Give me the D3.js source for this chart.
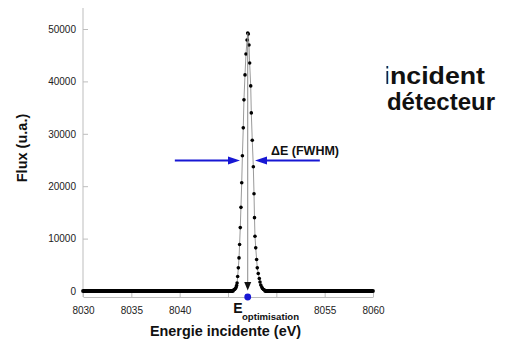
<!DOCTYPE html>
<html>
<head>
<meta charset="utf-8">
<script src="https://cdn.jsdelivr.net/npm/d3@7"></script>
<style>
  body { margin: 0; background: #fff; }
  svg { font-family: "Liberation Sans", Arial, sans-serif; }
</style>
</head>
<body>
<div id="chart"></div>
<script>
// measured points of the peak (eV, counts)
const energy = [
  8045.57, 8045.67, 8045.75, 8045.83, 8045.89, 8045.94, 8046.00, 8046.07, 8046.14, 8046.20,
  8046.27, 8046.34, 8046.42, 8046.49, 8046.58, 8046.65, 8046.76, 8046.86, 8046.97, 8047.04,
  8047.10, 8047.17, 8047.24, 8047.35, 8047.41, 8047.51, 8047.62, 8047.69, 8047.74, 8047.79,
  8047.87, 8047.96, 8048.03, 8048.13, 8048.24, 8048.31, 8048.39, 8048.49, 8048.57, 8048.67,
  8048.78
];
const flux = [
  190, 290, 420, 670, 1050, 1520, 2760, 4420, 6320, 8860,
  12100, 15960, 20670, 25810, 31140, 36480, 41240, 45240, 47900, 49240,
  49050, 46950, 43520, 39140, 33990, 28760, 23710, 18570, 14000, 10440,
  8230, 6000, 4420, 3330, 2380, 1710, 1140, 760, 480, 290,
  190
];
// flat zero regions either side of the peak
const baseLeft = [8030, 8045.5];
const baseRight = [8048.85, 8060];

const xTicks = [8030, 8035, 8040, 8045, 8050, 8055, 8060];
const xTickLabels = ["8030", "8035", "8040", "", "", "8055", "8060"];
const yTicks = [0, 10000, 20000, 30000, 40000, 50000];

const eOpt = 8047.04;
const halfLevel = 24900;
const arrowLeft = [8039.5, 8046.24];
const arrowRight = [8054.5, 8047.79];

const W = 511, H = 343;
const svg = d3.select("#chart").append("svg")
  .attr("width", W).attr("height", H);

const x = d3.scaleLinear().domain([8030, 8060]).range([83, 373]);
const y = d3.scaleLinear().domain([0, 50000]).range([291, 29]);
const axisY = 297;

const axisColor = "#bdbdbd";
const blue = "#1717d4";

// axes
const gx = svg.append("g")
  .attr("transform", "translate(0," + axisY + ")")
  .call(d3.axisBottom(x).tickValues(xTicks)
    .tickFormat((d, i) => xTickLabels[i])
    .tickSizeInner(-5).tickSizeOuter(0).tickPadding(10));
gx.select(".domain").attr("stroke", axisColor);
gx.selectAll(".tick line").attr("stroke", axisColor);
gx.selectAll("text").attr("fill", "#222").style("font-size", "10px");

const gy = svg.append("g")
  .attr("transform", "translate(83,0)")
  .call(d3.axisLeft(y).tickValues(yTicks).tickFormat(d3.format("d"))
    .tickSizeInner(-5).tickSizeOuter(0).tickPadding(7));
gy.select(".domain").remove();
gy.append("line").attr("x1", 0).attr("x2", 0).attr("y1", 8).attr("y2", axisY)
  .attr("stroke", axisColor);
gy.selectAll(".tick line").attr("stroke", axisColor);
gy.selectAll("text").attr("fill", "#222").style("font-size", "10px");

// data
const pts = energy.map((e, i) => [e, flux[i]]);
const all = [[baseLeft[0], 0]].concat(pts, [[baseRight[1], 0]]);

svg.append("path")
  .datum(all)
  .attr("fill", "none")
  .attr("stroke", "#9a9a9a")
  .attr("stroke-width", 1)
  .attr("d", d3.line().x(d => x(d[0])).y(d => y(d[1])));

[baseLeft, baseRight].forEach(b => {
  svg.append("line")
    .attr("x1", x(b[0])).attr("x2", x(b[1]))
    .attr("y1", y(0)).attr("y2", y(0))
    .attr("stroke", "#000").attr("stroke-width", 3.8)
    .attr("stroke-linecap", "round");
});

svg.selectAll("circle.pt")
  .data(pts)
  .enter().append("circle")
  .attr("class", "pt")
  .attr("cx", d => x(d[0]))
  .attr("cy", d => y(d[1]))
  .attr("r", 1.8)
  .attr("fill", "#000");

// vertical marker at optimum
const peak = d3.max(flux);
svg.append("line")
  .attr("x1", x(eOpt)).attr("x2", x(eOpt))
  .attr("y1", y(peak)).attr("y2", 284)
  .attr("stroke", "#8a8a8a").attr("stroke-width", 1);
svg.append("path")
  .attr("d", `M${x(eOpt) - 3.5},282 L${x(eOpt) + 3.5},282 L${x(eOpt)},290.5 Z`)
  .attr("fill", "#111");
svg.append("circle")
  .attr("cx", x(eOpt)).attr("cy", axisY).attr("r", 3.4)
  .attr("fill", blue);

// FWHM arrows
function arrow(a) {
  const x0 = x(a[0]), x1 = x(a[1]), yy = y(halfLevel);
  const dir = Math.sign(x1 - x0);
  svg.append("line")
    .attr("x1", x0).attr("x2", x1 - dir * 10)
    .attr("y1", yy).attr("y2", yy)
    .attr("stroke", blue).attr("stroke-width", 2);
  svg.append("path")
    .attr("d", `M${x1},${yy} L${x1 - dir * 12},${yy - 4} L${x1 - dir * 12},${yy + 4} Z`)
    .attr("fill", blue);
}
arrow(arrowLeft);
arrow(arrowRight);

svg.append("text")
  .attr("x", 271).attr("y", 154.5)
  .attr("font-weight", "bold").attr("font-size", 12.5)
  .attr("fill", "#111")
  .text("\u0394E (FWHM)");

// axis titles
svg.append("text")
  .attr("x", 233.3).attr("y", 312.5)
  .attr("font-weight", "bold").attr("font-size", 14)
  .attr("fill", "#111")
  .text("E");
svg.append("text")
  .attr("x", 242).attr("y", 320)
  .attr("font-weight", "bold").attr("font-size", 9.6)
  .attr("fill", "#111")
  .text("optimisation");
svg.append("text")
  .attr("x", 225.5).attr("y", 336)
  .attr("text-anchor", "middle")
  .attr("font-weight", "bold").attr("font-size", 14.4)
  .attr("fill", "#111")
  .text("Energie incidente (eV)");
svg.append("text")
  .attr("transform", "translate(27,148) rotate(-90)")
  .attr("text-anchor", "middle")
  .attr("font-weight", "bold").attr("font-size", 14.5)
  .attr("fill", "#111")
  .text("Flux (u.a.)");

// cropped legend text on the right
svg.append("clipPath").attr("id", "cut")
  .append("rect").attr("x", 386.5).attr("y", 0).attr("width", 130).attr("height", 150);
const leg = svg.append("g").attr("clip-path", "url(#cut)");
leg.append("text")
  .attr("x", 382.5).attr("y", 83.5)
  .attr("font-weight", "bold").attr("font-size", 24)
  .attr("textLength", 102.5).attr("lengthAdjust", "spacingAndGlyphs")
  .attr("fill", "#111")
  .text("incident");
leg.append("text")
  .attr("x", 495).attr("y", 110)
  .attr("text-anchor", "end")
  .attr("font-weight", "bold").attr("font-size", 24)
  .attr("fill", "#111")
  .text("e détecteur");
</script>
</body>
</html>
